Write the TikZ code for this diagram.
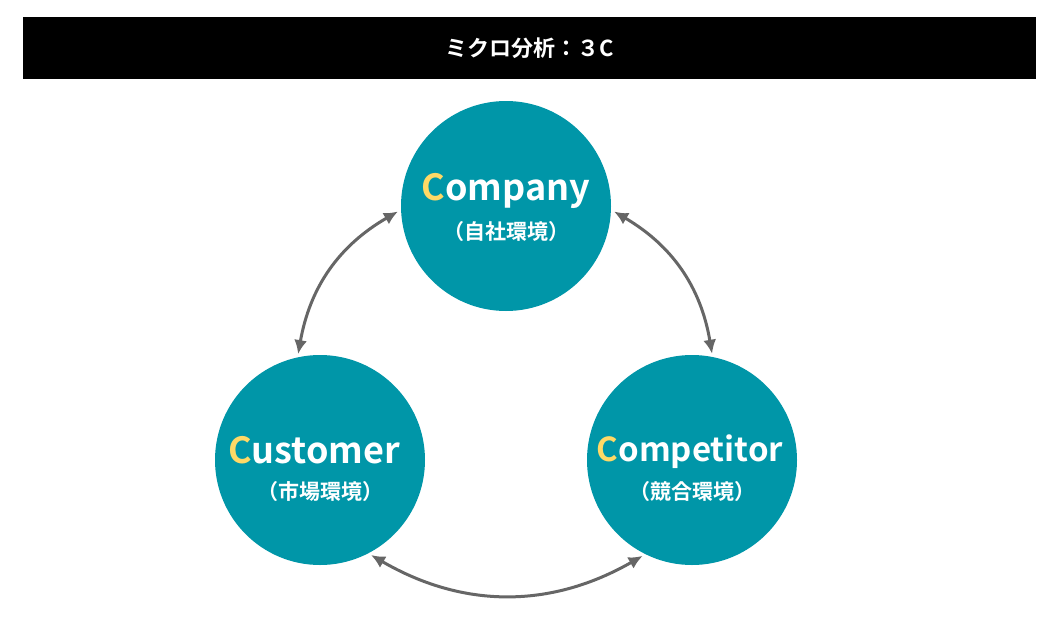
\documentclass[tikz,border=0pt]{standalone}
\usepackage{fontspec}
\setmainfont{Noto Sans CJK JP}[BoldFont={Noto Sans CJK JP Bold}]
\usetikzlibrary{arrows.meta}
\definecolor{teal3c}{RGB}{0,150,168}
\definecolor{yel3c}{RGB}{255,217,102}
\definecolor{arr3c}{RGB}{102,102,102}
\begin{document}
\begin{tikzpicture}[x=1pt,y=-1pt,
  circ/.style={circle,fill=teal3c,minimum size=210pt,inner sep=0pt,text=white,align=center,font=\bfseries},
  big/.style={font=\bfseries\fontsize{36}{40}\selectfont,text=white,inner sep=0pt},
  small/.style={font=\bfseries\fontsize{21}{24}\selectfont,text=white,inner sep=0pt},
  con/.style={draw=arr3c,line width=3pt,{Latex[length=14pt,width=13pt]}-{Latex[length=14pt,width=13pt]}}]
\useasboundingbox (0,0) rectangle (1058,635);
\fill[white] (0,0) rectangle (1058,635);
\node[fill=black,minimum width=1013pt,minimum height=62pt,inner sep=0pt,text=white,font=\bfseries\fontsize{22}{26}\selectfont] (title) at (529.5,48) {ミクロ分析：３C};
\node[circ] (company) at (506,206) {};
\node[circ] (customer) at (320,460) {};
\node[circ] (competitor) at (692,460) {};
\node[big] (t1) at (506,191) {\textcolor{yel3c}{C}ompany};
\node[small] (s1) at (506,232) {（自社環境）};
\node[big] (t2) at (314,450) {\textcolor{yel3c}{C}ustomer};
\node[small] (s2) at (320,492) {（市場環境）};
\node[big,font=\bfseries\fontsize{33}{38}\selectfont] (t3) at (690,452) {\textcolor{yel3c}{C}ompetitor};
\node[small] (s3) at (692,492) {（競合環境）};
\draw[con] ([shift={(-3,0)}]company.183) to[bend right=25] ([shift={(0,-3)}]customer.102);
\draw[con] ([shift={(3,0)}]company.-3) to[bend left=25] ([shift={(0,-3)}]competitor.79);
\draw[con] ([shift={(0,3)}]customer.-61) to[bend right=30] ([shift={(0,3)}]competitor.-118);
\end{tikzpicture}
\end{document}
